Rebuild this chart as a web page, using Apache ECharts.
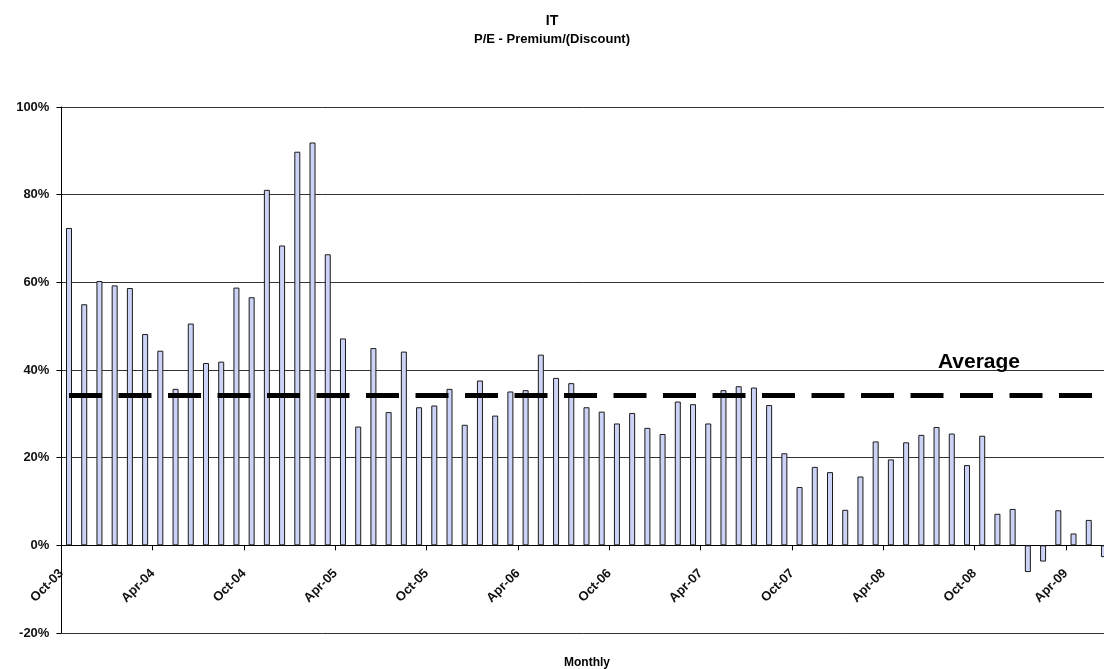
<!DOCTYPE html>
<html>
<head>
<meta charset="utf-8">
<script src="https://cdn.jsdelivr.net/npm/echarts@6/dist/echarts.min.js"></script>
<style>
html,body{margin:0;padding:0;background:#fff;}
#chart{width:1104px;height:669px;}
</style>
</head>
<body>
<div id="chart"></div>
<script>
const months = [
  'Oct-03','Nov-03','Dec-03',
  'Jan-04','Feb-04','Mar-04','Apr-04','May-04','Jun-04','Jul-04','Aug-04','Sep-04','Oct-04','Nov-04','Dec-04',
  'Jan-05','Feb-05','Mar-05','Apr-05','May-05','Jun-05','Jul-05','Aug-05','Sep-05','Oct-05','Nov-05','Dec-05',
  'Jan-06','Feb-06','Mar-06','Apr-06','May-06','Jun-06','Jul-06','Aug-06','Sep-06','Oct-06','Nov-06','Dec-06',
  'Jan-07','Feb-07','Mar-07','Apr-07','May-07','Jun-07','Jul-07','Aug-07','Sep-07','Oct-07','Nov-07','Dec-07',
  'Jan-08','Feb-08','Mar-08','Apr-08','May-08','Jun-08','Jul-08','Aug-08','Sep-08','Oct-08','Nov-08','Dec-08',
  'Jan-09','Feb-09','Mar-09','Apr-09','May-09','Jun-09'
];
// tick boundaries (one more than months: the month after the last)
const tickLabels = months.concat(['Jul-09']);

const premium = [
  72.4, 55.0, 60.3,
  59.3, 58.7, 48.2, 44.4, 35.7, 50.6, 41.6, 41.9, 58.8, 56.6, 81.1, 68.4,
  89.8, 91.9, 66.4, 47.2, 27.1, 45.0, 30.4, 44.2, 31.5, 31.9, 35.7, 27.5,
  37.6, 29.6, 35.1, 35.4, 43.5, 38.2, 37.0, 31.5, 30.5, 27.8, 30.2, 26.8,
  25.4, 32.8, 32.2, 27.8, 35.4, 36.3, 36.0, 32.0, 21.0, 13.3, 17.9, 16.7,
  8.1, 15.7, 23.7, 19.6, 23.5, 25.2, 27.0, 25.5, 18.3, 25.0, 7.2, 8.3,
  -6.1, -3.7, 8.0, 2.7, 5.8, -2.7
];
const averageValue = 34.2;
const averageLabelMonth = 'Sep-08';
const yTicks = { min: -20, max: 100, interval: 20 };

const FONT = "'Liberation Sans', Arial, sans-serif";
const slot = 15.22;
const gridTop = 107, gridHeight = 526;
// distance from the zero line to the bottom of the plot (labels sit under the zero line)
const zeroToBottom = gridHeight * (0 - yTicks.min) / (yTicks.max - yTicks.min);
const chart = echarts.init(document.getElementById('chart'), null, { renderer: 'canvas' });

chart.setOption({
  animation: false,
  backgroundColor: '#fff',
  title: [
    { text: 'IT', left: 'center', top: 9,
      textStyle: { fontFamily: FONT, fontSize: 14, fontWeight: 'bold', color: '#000' } },
    { text: 'P/E - Premium/(Discount)', left: 'center', top: 28,
      textStyle: { fontFamily: FONT, fontSize: 13, fontWeight: 'bold', color: '#000' } },
    { text: 'Monthly', left: 559, top: 652,
      textStyle: { fontFamily: FONT, fontSize: 12, fontWeight: 'bold', color: '#000' } }
  ],
  grid: { left: 61.4, top: gridTop, height: gridHeight, width: months.length * slot,
    containLabel: false, outerBoundsMode: 'none' },
  xAxis: [
    { type: 'category', data: months, position: 'bottom', boundaryGap: true, show: false,
      axisLine: { show: false, onZero: false }, axisTick: { show: false }, axisLabel: { show: false },
      splitLine: { show: false } },
    { type: 'category', data: tickLabels, position: 'bottom', boundaryGap: false,
      axisLine: { show: true, onZero: true, lineStyle: { color: '#000', width: 1 } },
      axisTick: { show: true, interval: 5, length: 5, lineStyle: { color: '#000' } },
      axisLabel: { show: true, interval: 5, rotate: 45, margin: 26 - zeroToBottom,
        fontFamily: FONT, fontSize: 13, fontWeight: 'bold', color: '#111' },
      splitLine: { show: false } }
  ],
  yAxis: {
    type: 'value', min: yTicks.min, max: yTicks.max, interval: yTicks.interval,
    axisLine: { show: true, onZero: false, lineStyle: { color: '#000', width: 1 } },
    axisTick: { show: true, length: 5, lineStyle: { color: '#000' } },
    axisLabel: { formatter: '{value}%', margin: 12,
      fontFamily: FONT, fontSize: 13, fontWeight: 'bold', color: '#111' },
    splitLine: { show: true, lineStyle: { color: '#333', width: 1 } }
  },
  series: [
    { type: 'bar', name: 'Premium', xAxisIndex: 0, data: premium, barWidth: 6,
      itemStyle: { color: '#ccd3f7', borderColor: '#1a1a1a', borderWidth: 1 } },
    { type: 'line', name: 'Average', xAxisIndex: 0, data: months.map(() => averageValue),
      symbol: 'none', silent: true,
      lineStyle: { color: '#000', width: 5, type: [33, 16.5], cap: 'butt' },
      markPoint: {
        symbol: 'rect', symbolSize: 1, itemStyle: { color: 'rgba(0,0,0,0)' },
        data: [{ coord: [averageLabelMonth, averageValue], value: 'Average' }],
        label: { show: true, position: 'inside', offset: [12, -33], formatter: 'Average',
          fontFamily: FONT, fontSize: 21, fontWeight: 'bold', color: '#000' }
      } }
  ]
});
</script>
</body>
</html>
